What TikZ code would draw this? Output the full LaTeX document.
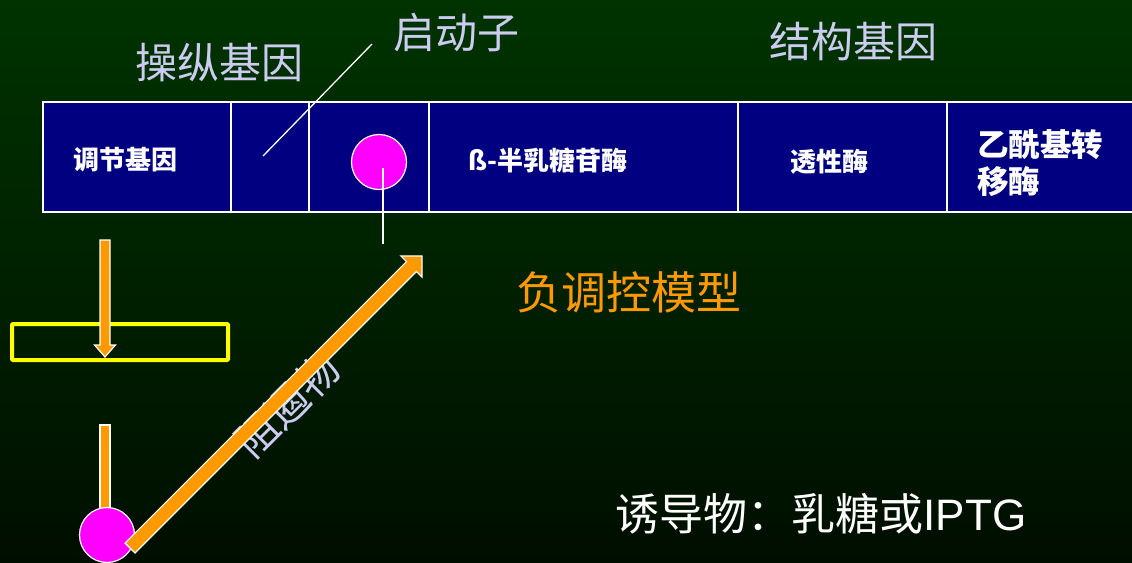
\documentclass[tikz,border=0pt]{standalone}
\usepackage{fontspec}
\newfontfamily\cjk{Noto Sans CJK SC}
\newfontfamily\latn{Liberation Sans}
\definecolor{bgtop}{HTML}{003300}
\definecolor{bgbot}{HTML}{000E00}
\definecolor{navy}{HTML}{000080}
\definecolor{lav}{HTML}{CCCCF0}
\definecolor{org}{HTML}{FF9900}
\definecolor{mag}{HTML}{FF00FF}
\definecolor{yel}{HTML}{FFFF00}
\begin{document}
\begin{tikzpicture}[x=1pt,y=-1pt,
  title/.style={font=\cjk\fontsize{42}{42}\selectfont, text=lav, inner sep=0pt},
  cell/.style={draw=white, line width=1.8pt, fill=navy, anchor=north west, minimum height=110pt, inner sep=0pt},
  lbl/.style={font=\cjk\bfseries\fontsize{26}{26}\selectfont, text=white, inner sep=0pt},
  blob/.style={circle, draw=white, line width=1.2pt, fill=mag, minimum size=55pt, inner sep=0pt},
  barrow/.style={draw=white, line width=1.2pt, fill=org, line join=miter},
  thin/.style={draw=white, line width=1.3pt},
]
\shade[top color=bgtop, bottom color=bgbot] (0,0) rectangle (1132,562);
\path[use as bounding box] (0,0) rectangle (1132,562);

% titles
\node[title] (t1) at (219,63) {操纵基因};
\node[title] (t2) at (456,33) {启动子};
\node[title] (t3) at (853,42) {结构基因};

% gene row
\node[cell, minimum width=188pt] (c1) at (42,101) {};
\node[cell, minimum width=78pt]  (c2) at (230,101) {};
\node[cell, minimum width=120pt] (c3) at (308,101) {};
\node[cell, minimum width=309pt] (c4) at (428,101) {};
\node[cell, minimum width=209pt] (c5) at (737,101) {};
\node[cell, minimum width=190pt] (c6) at (946,101) {};

\node[lbl] (l1) at (125,160) {调节基因};
\node[lbl] (l4) at (548,160) {ß-半乳糖苷酶};
\node[lbl] (l5) at (829,162) {透性酶};
\node[font=\cjk\bfseries\fontsize{31.5}{37}\selectfont, text=white, inner sep=0pt, anchor=west, align=left] (l6) at (977,163) {乙酰基转\\移酶};

% promoter pointer
\coordinate (p1) at (372,44);
\coordinate (p2) at (263,156);
\draw[thin] (p1) -- (p2);

% operator repressor site
\node[blob] (o1) at (379,162) {};
\coordinate (q1) at (383,168);
\coordinate (q2) at (383,244);
\draw[thin] (q1) -- (q2);

% negative control title
\node[font=\cjk\fontsize{45}{45}\selectfont, text=org, inner sep=0pt] (neg) at (629,292) {负调控模型};

% yellow box and arrow
\draw[yel, line width=4pt, rounded corners=1pt] (12,324) rectangle (228,360);
\draw[barrow] (100,240) -- (110,240) -- (110,345) -- (115.5,345) -- (105,357) -- (94.5,345) -- (100,345) -- cycle;

% repressor
\draw[barrow] (100,425) rectangle (110,522);
\node[blob] (o2) at (107,535) {};

\node[title, rotate=45] (rep) at (287,405) {阻遏物};

\begin{scope}[shift={(130,548)}, rotate=45]
\draw[barrow] (0,-7) -- (398,-7) -- (398,-15) -- (413,0) -- (398,15) -- (398,7) -- (0,7) -- cycle;
\end{scope}

% inducer
\node[font=\cjk\fontsize{44}{44}\selectfont, text=white, inner sep=0pt] (ind) at (821,514) {诱导物：乳糖或{\latn IPTG}};
\end{tikzpicture}
\end{document}
